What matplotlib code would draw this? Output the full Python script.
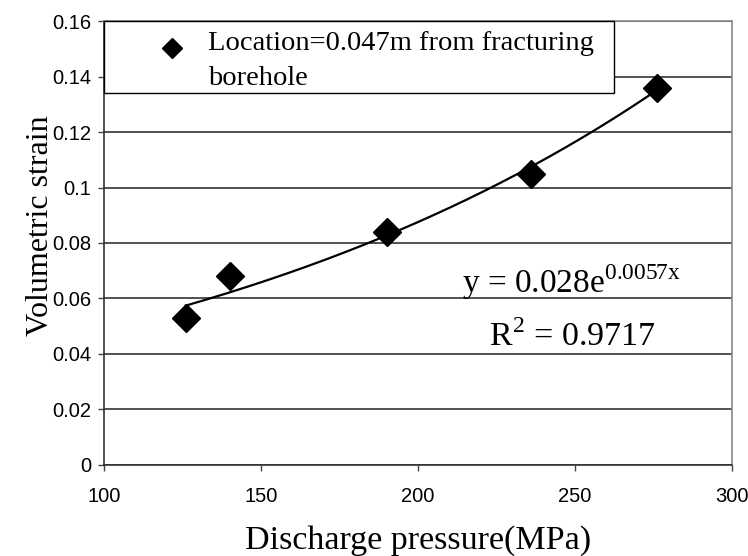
import numpy as np
import matplotlib
matplotlib.use("Agg")
import matplotlib.pyplot as plt

# measured points: discharge pressure (MPa) vs volumetric strain
pressure = [126, 140, 190, 236, 276]
strain = [0.053, 0.068, 0.084, 0.105, 0.136]

# exponential trendline y = a*exp(b*x)
fit_a = 0.028
fit_b = 0.0057
r_squared = 0.9717

plt.rcParams['mathtext.fontset'] = 'custom'
plt.rcParams['mathtext.rm'] = 'Liberation Serif'

fig = plt.figure(figsize=(7.48, 5.56), dpi=100)
ax = fig.add_axes([0.139, 0.1637, 0.8396, 0.7985])

xs = np.linspace(min(pressure), max(pressure), 200)
ax.plot(xs, fit_a * np.exp(fit_b * xs), color='black', lw=1.6, zorder=2)
ax.plot(pressure, strain, linestyle='none', marker='D', markersize=14,
        color='black', zorder=3,
        label='Location=0.047m from fracturing\nborehole')

ax.set_xlim(100, 300)
ax.set_ylim(0, 0.16)
ax.set_xticks([100, 150, 200, 250, 300])
ax.set_yticks([0, 0.02, 0.04, 0.06, 0.08, 0.1, 0.12, 0.14, 0.16])
ax.set_yticklabels(['0', '0.02', '0.04', '0.06', '0.08', '0.1', '0.12', '0.14', '0.16'])
ax.yaxis.grid(True, color='#222222', lw=1.1)
ax.set_axisbelow(True)

for lab in ax.get_xticklabels() + ax.get_yticklabels():
    lab.set_fontfamily('Liberation Sans')
    lab.set_fontsize(14.5)
ax.tick_params(direction='out', length=4, width=1, color='#444444', pad=5)
ax.tick_params(axis='x', pad=12)
for side in ['left', 'bottom']:
    ax.spines[side].set_color('#333333')
    ax.spines[side].set_linewidth(1.2)
for side in ['top', 'right']:
    ax.spines[side].set_color('#888888')
    ax.spines[side].set_linewidth(1.2)

ax.set_xlabel('Discharge pressure(MPa)', family='Liberation Serif', fontsize=24.5, labelpad=13.5)
ax.set_ylabel('Volumetric strain', family='Liberation Serif', fontsize=23)
ax.yaxis.set_label_coords(-0.078, 0.54)

# boxed legend across the top-left of the plot area
leg = ax.legend(loc='upper left', bbox_to_anchor=(0, 0.8356, 0.812, 0.1644),
                mode='expand', borderaxespad=0, frameon=True, fancybox=False,
                prop={'family': 'Liberation Serif', 'size': 20.5},
                markerscale=0.75, borderpad=0.22,
                handlelength=4.33, handletextpad=-0.9)
leg.get_frame().set_edgecolor('black')
leg.get_frame().set_linewidth(1.0)
leg.get_frame().set_alpha(1)
for t in leg.get_texts():
    t.set_linespacing(1.5)
    t.set_y(-4)
# key sits level with the first line of the label
for ln in leg.get_lines():
    ln.set_ydata(np.asarray(ln.get_ydata()) + 6)

ax.text(214, 0.062, r'y = %g$\mathrm{e}^{\mathrm{%g x}}$' % (fit_a, fit_b),
        family='Liberation Serif', fontsize=24)
ax.text(222.5, 0.043, r'R$^{\mathrm{2}}$ = %g' % r_squared,
        family='Liberation Serif', fontsize=24.5)

fig.savefig('out.png', dpi=100)
